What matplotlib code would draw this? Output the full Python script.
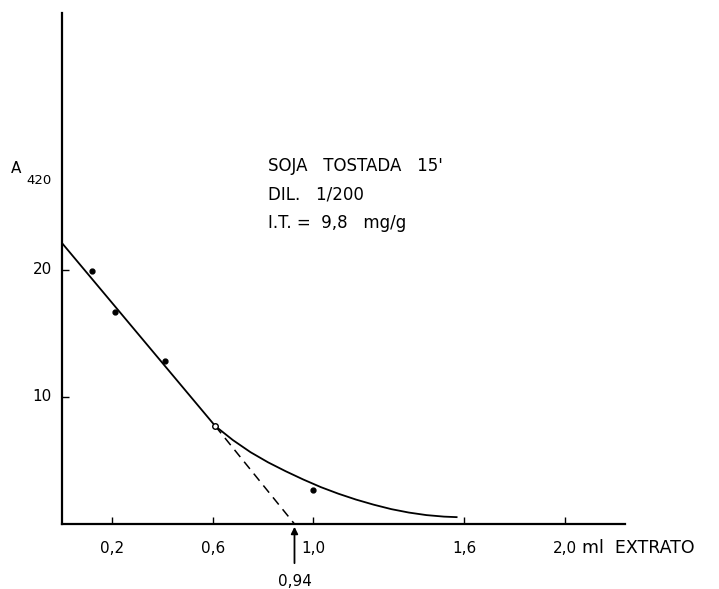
import matplotlib
matplotlib.use("Agg")
import matplotlib.pyplot as plt

# Data
pts_x = [0.12, 0.21, 0.41, 0.61, 1.00]
pts_y = [19.9, 16.7, 12.8, 7.7, 2.7]

line_x = [0.0, 0.61]
line_y = [22.1, 7.7]

curve_x = [0.61, 0.68, 0.75, 0.82, 0.89, 0.96, 1.03, 1.10, 1.17, 1.24, 1.31, 1.38, 1.45, 1.52, 1.57]
curve_y = [7.7, 6.6, 5.65, 4.85, 4.15, 3.5, 2.9, 2.38, 1.92, 1.52, 1.17, 0.9, 0.7, 0.58, 0.54]

dash_x = [0.61, 0.925]
dash_y = [7.7, 0.0]

x_ticks = [0.2, 0.6, 1.0, 1.6, 2.0]
x_ticklabels = ["0,2", "0,6", "1,0", "1,6", "2,0"]
x_unit_label = "ml  EXTRATO"
y_ticks = [10, 20]
y_ticklabels = ["10", "20"]

intercept = 0.925
intercept_label = "0,94"
y_label_main = "A"
y_label_sub = "420"
note_lines = ["SOJA   TOSTADA   15'", "DIL.   1/200", "I.T. =  9,8   mg/g"]

W, H = 719, 589
fig = plt.figure(figsize=(W / 100, H / 100), dpi=100)
x0_px, x1_px = 62, 625
y0_px, y1_px = 524, 13
ax = fig.add_axes([x0_px / W, (H - y0_px) / H, (x1_px - x0_px) / W, (y0_px - y1_px) / H])
ax.set_xlim(0, 2.24)
ax.set_ylim(0, 40.2)
for s in ["top", "right"]:
    ax.spines[s].set_visible(False)
for s in ["left", "bottom"]:
    ax.spines[s].set_linewidth(1.6)
    ax.spines[s].set_color("black")

ax.set_xticks(x_ticks)
ax.set_xticklabels([])
ax.set_yticks(y_ticks)
ax.set_yticklabels([])
ax.tick_params(axis="both", direction="in", length=5, width=1.0, colors="black")

tfs = 11
for xv, lab in zip(x_ticks, x_ticklabels):
    ax.text(xv, -1.9, lab, ha="center", va="center", fontsize=tfs, clip_on=False)
ax.text(2.068, -1.9, x_unit_label, ha="left", va="center",
        fontsize=12.5, clip_on=False)
for yv, lab in zip(y_ticks, y_ticklabels):
    ax.text(-0.04, yv, lab, ha="right", va="center", fontsize=tfs, clip_on=False)

ax.text(-0.205, 28.0, y_label_main, ha="left", va="center", fontsize=11, clip_on=False)
ax.text(-0.143, 27.0, y_label_sub, ha="left", va="center", fontsize=9.5, clip_on=False)

ax.plot(line_x, line_y, color="black", lw=1.3, solid_capstyle="round")
ax.plot(curve_x, curve_y, color="black", lw=1.3, solid_joinstyle="round")
ax.plot(dash_x, dash_y, color="black", lw=1.1, ls=(0, (6, 4)))
ax.plot(pts_x[:3] + pts_x[4:], pts_y[:3] + pts_y[4:], "o", color="black", ms=3.5)
ax.plot([pts_x[3]], [pts_y[3]], "o", mfc="white", mec="black", ms=4, mew=1)

ax.annotate("", xy=(intercept, 0.0), xytext=(intercept, -3.3),
            arrowprops=dict(arrowstyle="-|>", color="black", lw=1.3, mutation_scale=10),
            annotation_clip=False)
ax.text(intercept, -4.5, intercept_label, ha="center", va="center", fontsize=tfs, clip_on=False)

for i, t in enumerate(note_lines):
    ax.text(0.82, 28.2 - i * 2.27, t, ha="left", va="center", fontsize=12, clip_on=False)

fig.savefig("out.png", dpi=100)
